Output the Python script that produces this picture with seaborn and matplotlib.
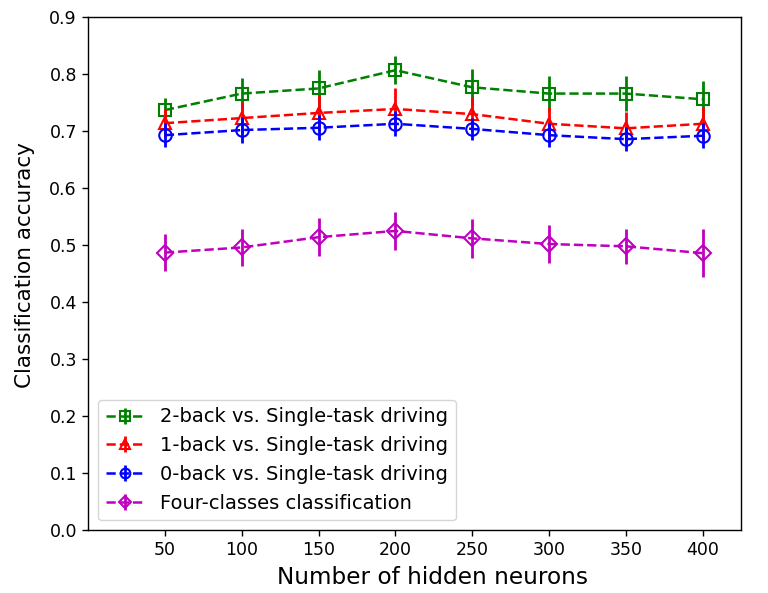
import numpy as np
import pandas as pd
import seaborn as sns
import matplotlib
matplotlib.use("Agg")
import matplotlib.pyplot as plt
from matplotlib.lines import Line2D

neurons = [50, 100, 150, 200, 250, 300, 350, 400]
labels = ["2-back vs. Single-task driving", "1-back vs. Single-task driving",
          "0-back vs. Single-task driving", "Four-classes classification"]
acc_2back = [0.737, 0.766, 0.775, 0.807, 0.777, 0.766, 0.766, 0.756]
err_2back = [0.022, 0.028, 0.033, 0.025, 0.032, 0.031, 0.031, 0.032]
acc_1back = [0.714, 0.723, 0.732, 0.739, 0.730, 0.713, 0.705, 0.713]
err_1back = [0.025, 0.028, 0.031, 0.036, 0.030, 0.030, 0.028, 0.029]
acc_0back = [0.693, 0.702, 0.706, 0.713, 0.704, 0.693, 0.686, 0.692]
err_0back = [0.021, 0.023, 0.022, 0.022, 0.020, 0.021, 0.021, 0.022]
acc_four = [0.487, 0.496, 0.514, 0.525, 0.512, 0.502, 0.498, 0.486]
err_four = [0.033, 0.033, 0.033, 0.034, 0.034, 0.033, 0.031, 0.042]

sns.set_style("ticks")
plt.rcParams['font.family'] = ['DejaVu Sans']
plt.rcParams['text.color'] = 'black'
plt.rcParams['axes.labelcolor'] = 'black'

fig = plt.figure(figsize=(7.68, 5.93), dpi=100)
ax = fig.add_axes([0.1146, 0.106, 0.8504, 0.865])

series = [(acc_2back, err_2back, 'green', 's'),
          (acc_1back, err_1back, 'red', '^'),
          (acc_0back, err_0back, 'blue', 'o'),
          (acc_four, err_four, 'm', 'D')]
handles = []
for (acc, err, c, m), lab in zip(series, labels):
    df = pd.DataFrame({"x": neurons, "y": acc})
    ms = 9 if m != 'D' else 8
    sns.lineplot(data=df, x="x", y="y", ax=ax, color=c, linestyle='--', linewidth=1.8,
                 marker=m, markersize=ms, markerfacecolor='none', markeredgecolor=c,
                 markeredgewidth=1.5, legend=False)
    ax.errorbar(neurons, acc, yerr=err, fmt='none', ecolor=c, elinewidth=2, capsize=0)
    lms = 7 if m != 'D' else 6.5
    h1 = Line2D([], [], color=c, linestyle='--', linewidth=1.8, marker=m, markersize=lms,
                markerfacecolor='none', markeredgecolor=c, markeredgewidth=1.5)
    h2 = Line2D([], [], color=c, linestyle='none', marker='|', markersize=11, markeredgewidth=2)
    handles.append((h1, h2))

ax.set_xlim(0, 425)
ax.set_ylim(0, 0.9)
ax.set_xticks(neurons)
ax.set_yticks(np.arange(0, 0.91, 0.1))
ax.set_yticklabels([f"{v:.1f}" for v in np.arange(0, 0.91, 0.1)])
ax.tick_params(labelsize=12.5, direction='out', length=4.5, width=1, colors='black')
for s in ax.spines.values():
    s.set_color('black')
    s.set_linewidth(1)
ax.set_xlabel("Number of hidden neurons", fontsize=16.7, color='black', x=0.528, labelpad=5)
ax.set_ylabel("Classification accuracy", fontsize=15.5, color='black', y=0.516, labelpad=10)
leg = ax.legend(handles, labels, loc='lower left', fontsize=14, frameon=True,
                handlelength=2.0, borderpad=0.4, labelspacing=0.5)
for t in leg.get_texts():
    t.set_color('black')
fig.savefig("out.png", dpi=100)
